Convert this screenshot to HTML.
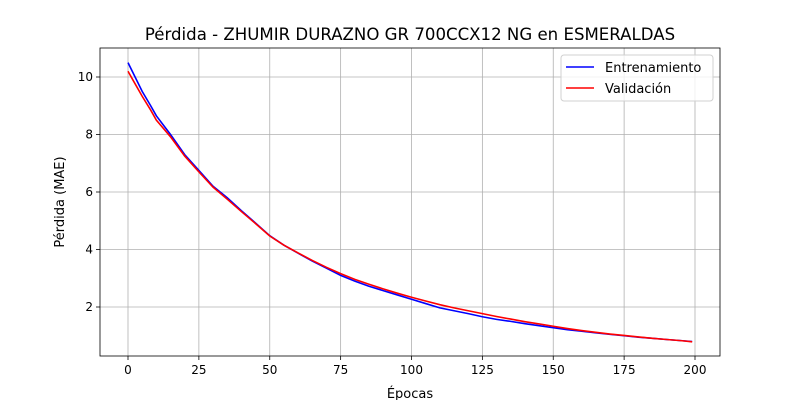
<!DOCTYPE html>
<html><head><meta charset="utf-8"><style>
body{margin:0;background:#fff;font-family:"Liberation Sans","DejaVu Sans",sans-serif}
svg text{font-family:"DejaVu Sans","Liberation Sans",sans-serif}
</style></head><body>
<svg id="c" width="800" height="400" xmlns="http://www.w3.org/2000/svg"></svg>
<script>
const epochs=[0,2,5,8,10,15,20,25,30,35,40,45,50,55,60,65,70,75,80,85,90,95,100,105,110,115,120,125,130,135,140,145,150,155,160,165,170,175,180,185,190,195,199];
const trainLoss=[10.5,10.1,9.5,9.0,8.65,8.0,7.3,6.75,6.2,5.8,5.35,4.92,4.48,4.15,3.87,3.6,3.35,3.1,2.9,2.72,2.57,2.42,2.27,2.12,1.97,1.87,1.77,1.66,1.57,1.5,1.42,1.35,1.28,1.21,1.16,1.1,1.05,1.0,0.95,0.91,0.87,0.83,0.8];
const valLoss=[10.2,9.85,9.33,8.85,8.5,7.92,7.25,6.7,6.17,5.75,5.32,4.9,4.47,4.15,3.88,3.62,3.38,3.16,2.96,2.79,2.63,2.48,2.34,2.21,2.08,1.97,1.87,1.77,1.67,1.58,1.49,1.41,1.33,1.25,1.18,1.12,1.06,1.01,0.96,0.91,0.87,0.83,0.79];
const xTicks=[0,25,50,75,100,125,150,175,200];
const yTicks=[2,4,6,8,10];
const L=100,R=720,T=48,B=356;
const x=v=>128+(v)*2.835;
const y=v=>77+(10-v)*28.75;
const svg=document.getElementById('c');const NS='http://www.w3.org/2000/svg';
function mk(t,a,p){const e=document.createElementNS(NS,t);for(const k in a)e.setAttribute(k,a[k]);(p||svg).appendChild(e);return e;}
const grid=mk('g',{});


xTicks.forEach(t=>{const X=x(t);
mk('line',{x1:X,x2:X,y1:T,y2:B,stroke:'#b0b0b0','stroke-width':0.8},grid);
mk('line',{x1:X,x2:X,y1:B,y2:B+4,stroke:'#000','stroke-width':0.8});
const tx=mk('text',{x:X,y:B+18,'text-anchor':'middle','font-size':12});tx.textContent=t;

});
yTicks.forEach(t=>{const Y=y(t);
mk('line',{x1:L,x2:R,y1:Y,y2:Y,stroke:'#b0b0b0','stroke-width':0.8},grid);
mk('line',{x1:L-4,x2:L,y1:Y,y2:Y,stroke:'#000','stroke-width':0.8});
const tx=mk('text',{x:L-7,y:Y+4,'text-anchor':'end','font-size':12});tx.textContent=t;

});
function line(vals,col,name){const p=mk('polyline',{points:vals.map((v,i)=>x(epochs[i])+','+y(v)).join(' '),fill:'none',stroke:col,'stroke-width':1.6});

}
line(trainLoss,'#0000ff','train-line');
line(valLoss,'#ff0000','val-line');
const fr=mk('rect',{x:L,y:T,width:R-L,height:B-T,fill:'none',stroke:'#000','stroke-width':0.8});


const ti=mk('text',{x:410,y:40,'text-anchor':'middle','font-size':16.6});ti.textContent='Pérdida - ZHUMIR DURAZNO GR 700CCX12 NG en ESMERALDAS';


const xl=mk('text',{x:410,y:398,'text-anchor':'middle','font-size':13});xl.textContent='Épocas';


const yl=mk('text',{x:0,y:0,'text-anchor':'middle','font-size':13,transform:'translate(64,202) rotate(-90)'});yl.textContent='Pérdida (MAE)';


const lg=mk('g',{});


mk('rect',{x:561,y:55,width:152,height:46,rx:3,fill:'#fff','fill-opacity':0.8,stroke:'#d0d0d0'},lg);
[['Entrenamiento','#0000ff'],['Validación','#ff0000']].forEach((e,i)=>{const Y=67+i*21;
mk('line',{x1:566,x2:594,y1:Y,y2:Y,stroke:e[1],'stroke-width':1.6},lg);
const t=mk('text',{x:605,y:Y+5,'font-size':13},lg);t.textContent=e[0];

});
</script>
</body></html>
